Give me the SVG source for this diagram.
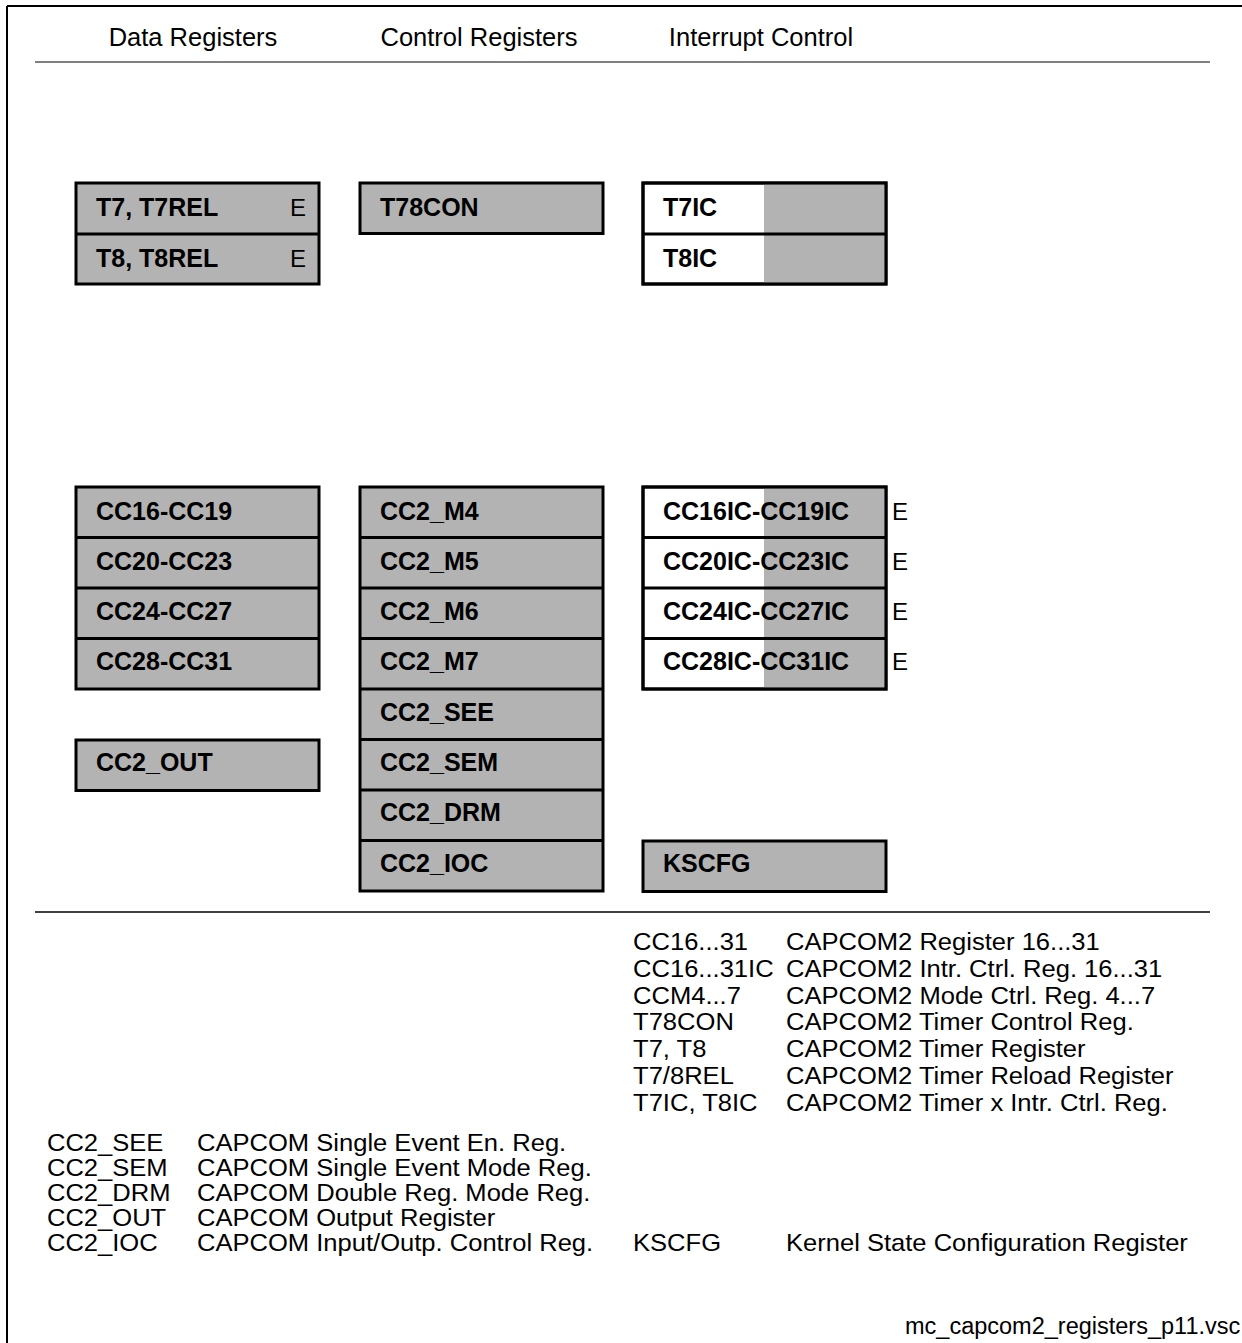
<svg xmlns="http://www.w3.org/2000/svg" width="1242" height="1343" viewBox="0 0 1242 1343">
<style>
text{font-family:"Liberation Sans",Arial,sans-serif;fill:#000}
.h{font-size:25.5px}
.b{font-size:25px;font-weight:bold}
.e{font-size:24px}
.l{font-size:24px}
.f{font-size:23.5px}
.box{fill:#b3b3b3;stroke:#000;stroke-width:3}
.wbox{fill:#fff;stroke:#000;stroke-width:3}
.gr{fill:#b3b3b3}
.div{stroke:#000;stroke-width:3}
</style>
<rect width="1242" height="1343" fill="#fff"/>
<g id="frame">
<line x1="7" y1="6" x2="1242" y2="6" stroke="#000" stroke-width="2"/>
<line x1="7" y1="6" x2="7" y2="1343" stroke="#000" stroke-width="2"/>
<line x1="35" y1="62" x2="1210" y2="62" stroke="#808080" stroke-width="2"/>
<line x1="35" y1="912" x2="1210" y2="912" stroke="#000" stroke-width="1.5"/>
</g>
<g id="headers">
<text class="h" x="193" y="46" text-anchor="middle">Data Registers</text>
<text class="h" x="479" y="46" text-anchor="middle">Control Registers</text>
<text class="h" x="761" y="46" text-anchor="middle">Interrupt Control</text>
</g>
<g id="timer-data">
<rect class="box" x="76" y="183" width="243" height="101"/>
<line class="div" x1="76" y1="234" x2="319" y2="234"/>
<text class="b" x="96" y="216">T7, T7REL</text>
<text class="e" x="290" y="216">E</text>
<text class="b" x="96" y="267">T8, T8REL</text>
<text class="e" x="290" y="267">E</text>
</g>
<g id="t78con">
<rect class="box" x="360" y="183" width="243" height="50.5"/>
<text class="b" x="380" y="216">T78CON</text>
</g>
<g id="timer-ic">
<rect class="wbox" x="643" y="183" width="243" height="101"/>
<rect class="gr" x="764" y="184.5" width="120.5" height="98"/>
<rect x="643" y="183" width="243" height="101" fill="none" stroke="#000" stroke-width="3"/>
<line class="div" x1="643" y1="234" x2="886" y2="234"/>
<text class="b" x="663" y="216">T7IC</text>
<text class="b" x="663" y="267">T8IC</text>
</g>
<g id="cc-data">
<rect class="box" x="76" y="487" width="243" height="202"/>
<line class="div" x1="76" y1="537.5" x2="319" y2="537.5"/>
<line class="div" x1="76" y1="588" x2="319" y2="588"/>
<line class="div" x1="76" y1="638.5" x2="319" y2="638.5"/>
<text class="b" x="96" y="520">CC16-CC19</text>
<text class="b" x="96" y="570">CC20-CC23</text>
<text class="b" x="96" y="620">CC24-CC27</text>
<text class="b" x="96" y="670">CC28-CC31</text>
</g>
<g id="cc2-out">
<rect class="box" x="76" y="740" width="243" height="50.5"/>
<text class="b" x="96" y="771">CC2_OUT</text>
</g>
<g id="cc-control">
<rect class="box" x="360" y="487" width="243" height="404"/>
<line class="div" x1="360" y1="537.5" x2="603" y2="537.5"/>
<line class="div" x1="360" y1="588" x2="603" y2="588"/>
<line class="div" x1="360" y1="638.5" x2="603" y2="638.5"/>
<line class="div" x1="360" y1="689" x2="603" y2="689"/>
<line class="div" x1="360" y1="739.5" x2="603" y2="739.5"/>
<line class="div" x1="360" y1="790" x2="603" y2="790"/>
<line class="div" x1="360" y1="840.5" x2="603" y2="840.5"/>
<text class="b" x="380" y="520">CC2_M4</text>
<text class="b" x="380" y="570">CC2_M5</text>
<text class="b" x="380" y="620">CC2_M6</text>
<text class="b" x="380" y="670">CC2_M7</text>
<text class="b" x="380" y="721">CC2_SEE</text>
<text class="b" x="380" y="771">CC2_SEM</text>
<text class="b" x="380" y="821">CC2_DRM</text>
<text class="b" x="380" y="872">CC2_IOC</text>
</g>
<g id="cc-ic">
<rect class="wbox" x="643" y="487" width="243" height="202"/>
<rect class="gr" x="764" y="488.5" width="120.5" height="199"/>
<rect x="643" y="487" width="243" height="202" fill="none" stroke="#000" stroke-width="3"/>
<line class="div" x1="643" y1="537.5" x2="886" y2="537.5"/>
<line class="div" x1="643" y1="588" x2="886" y2="588"/>
<line class="div" x1="643" y1="638.5" x2="886" y2="638.5"/>
<text class="b" x="663" y="520">CC16IC-CC19IC</text>
<text class="b" x="663" y="570">CC20IC-CC23IC</text>
<text class="b" x="663" y="620">CC24IC-CC27IC</text>
<text class="b" x="663" y="670">CC28IC-CC31IC</text>
<text class="e" x="892" y="520">E</text>
<text class="e" x="892" y="570">E</text>
<text class="e" x="892" y="620">E</text>
<text class="e" x="892" y="670">E</text>
</g>
<g id="kscfg">
<rect class="box" x="643" y="841" width="243" height="50.5"/>
<text class="b" x="663" y="872">KSCFG</text>
</g>
<g id="legend-right" transform="scale(1.065 1)">
<text class="l" x="594.4" y="950">CC16...31</text><text class="l" x="738" y="950">CAPCOM2 Register 16...31</text>
<text class="l" x="594.4" y="977">CC16...31IC</text><text class="l" x="738" y="977">CAPCOM2 Intr. Ctrl. Reg. 16...31</text>
<text class="l" x="594.4" y="1004">CCM4...7</text><text class="l" x="738" y="1004">CAPCOM2 Mode Ctrl. Reg. 4...7</text>
<text class="l" x="594.4" y="1030">T78CON</text><text class="l" x="738" y="1030">CAPCOM2 Timer Control Reg.</text>
<text class="l" x="594.4" y="1057">T7, T8</text><text class="l" x="738" y="1057">CAPCOM2 Timer Register</text>
<text class="l" x="594.4" y="1084">T7/8REL</text><text class="l" x="738" y="1084">CAPCOM2 Timer Reload Register</text>
<text class="l" x="594.4" y="1111">T7IC, T8IC</text><text class="l" x="738" y="1111">CAPCOM2 Timer x Intr. Ctrl. Reg.</text>
<text class="l" x="594.4" y="1251">KSCFG</text><text class="l" x="738" y="1251">Kernel State Configuration Register</text>
</g>
<g id="legend-left" transform="scale(1.065 1)">
<text class="l" x="44.1" y="1151">CC2_SEE</text><text class="l" x="185" y="1151">CAPCOM Single Event En. Reg.</text>
<text class="l" x="44.1" y="1176">CC2_SEM</text><text class="l" x="185" y="1176">CAPCOM Single Event Mode Reg.</text>
<text class="l" x="44.1" y="1201">CC2_DRM</text><text class="l" x="185" y="1201">CAPCOM Double Reg. Mode Reg.</text>
<text class="l" x="44.1" y="1226">CC2_OUT</text><text class="l" x="185" y="1226">CAPCOM Output Register</text>
<text class="l" x="44.1" y="1251">CC2_IOC</text><text class="l" x="185" y="1251">CAPCOM Input/Outp. Control Reg.</text>
</g>
<text class="f" x="905" y="1334">mc_capcom2_registers_p11.vsc</text>
</svg>
